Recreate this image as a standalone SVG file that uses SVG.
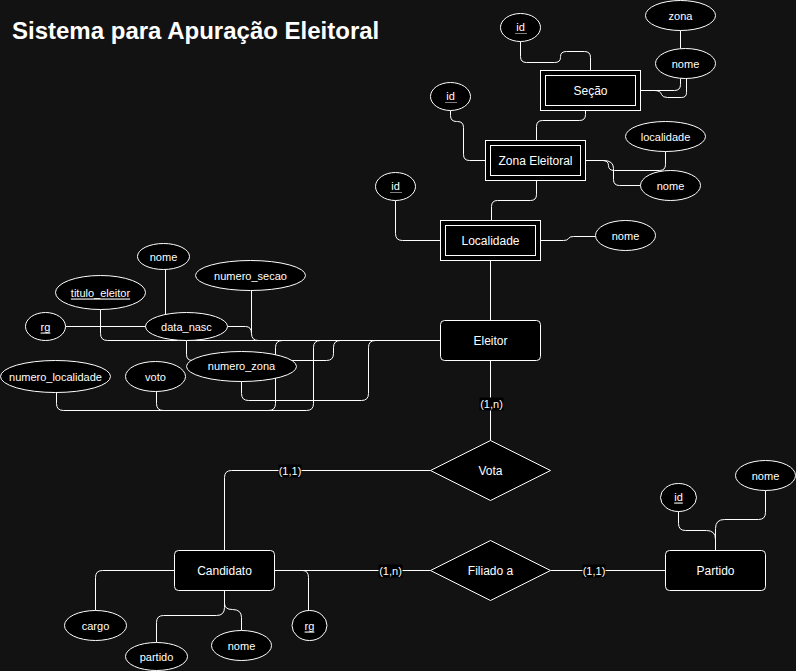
<svg xmlns="http://www.w3.org/2000/svg" width="796" height="671" viewBox="0 0 796 671">
<style>
.bg{fill:#121212}
.ent{fill:#000;stroke:#fff;stroke-width:1}
.att{fill:#000;stroke:#fff;stroke-width:1}
.e{fill:none;stroke:#fff;stroke-width:1}
.t{font-family:"Liberation Sans",Arial,sans-serif;fill:#fff;text-anchor:middle;dominant-baseline:central}
.n{font-size:12px}
.a{font-size:11px}
.u{text-decoration:underline}
.lb{fill:#000}
.dot{stroke:#fff;stroke-width:1;stroke-dasharray:1,1}
</style>
<rect class="bg" x="0" y="0" width="796" height="671"/>
<text x="12" y="39" font-family="'Liberation Sans',Arial,sans-serif" font-weight="bold" font-size="24" fill="#fff">Sistema para Apuração Eleitoral</text>
<g transform="translate(0.5,0.5)">
<g id="connectors">
<path class="e" d="M520,41 V56 Q520,62 526,62 H554 Q560,62 560,57 V56 Q560,51 566,51 H584 Q590,51 590,57 V70"/>
<path class="e" d="M680,30 V48"/>
<path class="e" d="M640,90 H674 Q680,90 680,84 V78"/>
<path class="e" d="M640,90 H654 Q660,90 661,94 Q662,97 667,97 H681 Q686,97 686,92 V78"/>
<path class="e" d="M585,110 V114 Q585,120 579,120 H542 Q536,120 536,126 V140"/>
<path class="e" d="M450,110 V115 Q450,121 456,121 H457 Q463,121 463,127 V154 Q463,160 469,160 H485"/>
<path class="e" d="M585,160 H602 Q608,160 608,165 Q608,170 614,170 H659 Q665,170 665,164 V151"/>
<path class="e" d="M585,160 H603 Q613,160 613,168 V179 Q613,185 619,185 H640"/>
<path class="e" d="M536,180 V194 Q536,200 530,200 H497 Q491,200 491,206 V220"/>
<path class="e" d="M395,200 V233 Q395,240 402,240 H440"/>
<path class="e" d="M540,240 H563 Q567,240 568,238 Q569,236 573,236 H595"/>
<path class="e" d="M490,260 V320"/>
<path class="e" d="M440,340 H107 Q100,340 100,333 V309"/>
<path class="e" d="M258,340 Q251,340 251,333 Q251,326 245,326 H65"/>
<path class="e" d="M251,333 V290"/>
<path class="e" d="M340,340 Q333,340 333,347 V353 Q333,360 326,360 H192 Q186,360 186,354 V326 H165 V268"/>
<path class="e" d="M375,340 Q368,340 368,347 V393 Q368,400 361,400 H248 Q241,400 241,393 V380"/>
<path class="e" d="M282,340 Q275,340 275,347 V403 Q275,410 268,410 H163 Q156,410 156,403 V391"/>
<path class="e" d="M320,340 Q313,340 313,347 V403 Q313,410 306,410 H63 Q56,410 56,403 V392"/>
<path class="e" d="M490,360 V440"/>
<path class="e" d="M430,470 H231 Q224,470 224,477 V550"/>
<path class="e" d="M274,570 H430"/>
<path class="e" d="M550,570 H665"/>
<path class="e" d="M302,570 Q308,570 308,577 V610"/>
<path class="e" d="M174,570 H102 Q95,570 95,577 V610"/>
<path class="e" d="M224,590 V607 Q224,615 216,615 H163 Q156,615 156,622 V642"/>
<path class="e" d="M224,603 Q224,609 232,609 Q241,609 241,617 V630"/>
<path class="e" d="M678,511 V523 Q678,530 685,530 H706 Q715,530 715,539 V550"/>
<path class="e" d="M765,490 V512 Q765,519 758,519 H724 Q715,519 715,528 V550"/>
<rect class="lb" x="479" y="397" width="24" height="13"/>
<text class="t a" x="491" y="403">(1,n)</text>
<rect class="lb" x="278" y="464" width="23" height="13"/>
<text class="t a" x="289.5" y="470">(1,1)</text>
<rect class="lb" x="378" y="564" width="24" height="13"/>
<text class="t a" x="390" y="570">(1,n)</text>
<rect class="lb" x="582" y="564" width="23" height="13"/>
<text class="t a" x="593.5" y="570">(1,1)</text>
</g>

<g id="secao">
<rect class="ent" x="540" y="70" width="100" height="40"/>
<rect class="ent" x="545" y="75" width="90" height="30"/>
<text class="t n" x="590" y="90">Seção</text>
</g>
<g id="secao-id">
<ellipse class="att" cx="520" cy="27" rx="20" ry="14"/>
<text class="t a" x="520" y="26">id</text>
<line class="dot" x1="515" y1="33" x2="526" y2="33"/>
</g>
<g id="secao-zona">
<ellipse class="att" cx="680" cy="15" rx="35" ry="15"/>
<text class="t a" x="680" y="15">zona</text>
</g>
<g id="secao-nome">
<ellipse class="att" cx="685" cy="63" rx="30" ry="15"/>
<text class="t a" x="685" y="63">nome</text>
</g>

<g id="zona-eleitoral">
<rect class="ent" x="485" y="140" width="100" height="40"/>
<rect class="ent" x="490" y="145" width="90" height="30"/>
<text class="t n" x="535" y="160">Zona Eleitoral</text>
</g>
<g id="zona-id">
<ellipse class="att" cx="450" cy="96" rx="20" ry="14"/>
<text class="t a" x="450" y="95">id</text>
<line class="dot" x1="445" y1="102" x2="456" y2="102"/>
</g>
<g id="zona-localidade">
<ellipse class="att" cx="665" cy="136" rx="40" ry="15"/>
<text class="t a" x="665" y="136">localidade</text>
</g>
<g id="zona-nome">
<ellipse class="att" cx="670" cy="185" rx="30" ry="15"/>
<text class="t a" x="670" y="185">nome</text>
</g>

<g id="localidade">
<rect class="ent" x="440" y="220" width="100" height="40"/>
<rect class="ent" x="445" y="225" width="90" height="30"/>
<text class="t n" x="490" y="240">Localidade</text>
</g>
<g id="localidade-id">
<ellipse class="att" cx="395" cy="186" rx="20" ry="14"/>
<text class="t a" x="395" y="185">id</text>
<line class="dot" x1="390" y1="192" x2="401" y2="192"/>
</g>
<g id="localidade-nome">
<ellipse class="att" cx="625" cy="235" rx="30" ry="15"/>
<text class="t a" x="625" y="235">nome</text>
</g>

<g id="eleitor">
<rect class="ent" x="440" y="320" width="100" height="40" rx="4"/>
<text class="t n" x="490" y="340">Eleitor</text>
</g>
<g id="eleitor-nome">
<ellipse class="att" cx="163" cy="256" rx="26" ry="13"/>
<text class="t a" x="163" y="256">nome</text>
</g>
<g id="eleitor-numero-secao">
<ellipse class="att" cx="250" cy="275" rx="55" ry="15"/>
<text class="t a" x="250" y="275">numero_secao</text>
</g>
<g id="eleitor-titulo">
<ellipse class="att" cx="100" cy="292" rx="45" ry="17"/>
<text class="t a u" x="100" y="292">titulo_eleitor</text>
</g>
<g id="eleitor-rg">
<ellipse class="att" cx="45" cy="326" rx="20" ry="14"/>
<text class="t a u" x="45" y="326">rg</text>
</g>
<g id="eleitor-data-nasc">
<ellipse class="att" cx="186" cy="326" rx="41" ry="14"/>
<text class="t a" x="186" y="326">data_nasc</text>
</g>
<g id="eleitor-numero-localidade">
<ellipse class="att" cx="55" cy="376" rx="55" ry="16"/>
<text class="t a" x="55" y="376">numero_localidade</text>
</g>
<g id="eleitor-voto">
<ellipse class="att" cx="155" cy="376" rx="30" ry="15"/>
<text class="t a" x="155" y="376">voto</text>
</g>
<g id="eleitor-numero-zona">
<ellipse class="att" cx="241" cy="366" rx="55" ry="15"/>
<text class="t a" x="241" y="365">numero_zona</text>
</g>

<g id="vota">
<polygon class="ent" points="490,440 550,470 490,500 430,470"/>
<text class="t n" x="490" y="470">Vota</text>
</g>
<g id="filiado">
<polygon class="ent" points="490,540 550,570 490,600 430,570"/>
<text class="t n" x="490" y="570">Filiado a</text>
</g>

<g id="candidato">
<rect class="ent" x="174" y="550" width="100" height="40" rx="4"/>
<text class="t n" x="224" y="570">Candidato</text>
</g>
<g id="candidato-cargo">
<ellipse class="att" cx="95" cy="625" rx="31" ry="15"/>
<text class="t a" x="95" y="625">cargo</text>
</g>
<g id="candidato-partido">
<ellipse class="att" cx="156" cy="656" rx="31" ry="14"/>
<text class="t a" x="156" y="656">partido</text>
</g>
<g id="candidato-nome">
<ellipse class="att" cx="241" cy="645" rx="30" ry="15"/>
<text class="t a" x="241" y="645">nome</text>
</g>
<g id="candidato-rg">
<ellipse class="att" cx="309" cy="625" rx="17.5" ry="15"/>
<text class="t a u" x="309" y="625">rg</text>
</g>

<g id="partido">
<rect class="ent" x="665" y="550" width="100" height="40" rx="4"/>
<text class="t n" x="715" y="570">Partido</text>
</g>
<g id="partido-id">
<ellipse class="att" cx="678" cy="497" rx="18" ry="14"/>
<text class="t a u" x="678" y="496">id</text>
</g>
<g id="partido-nome">
<ellipse class="att" cx="765" cy="475" rx="30" ry="15"/>
<text class="t a" x="765" y="475">nome</text>
</g>
</g>
</svg>
